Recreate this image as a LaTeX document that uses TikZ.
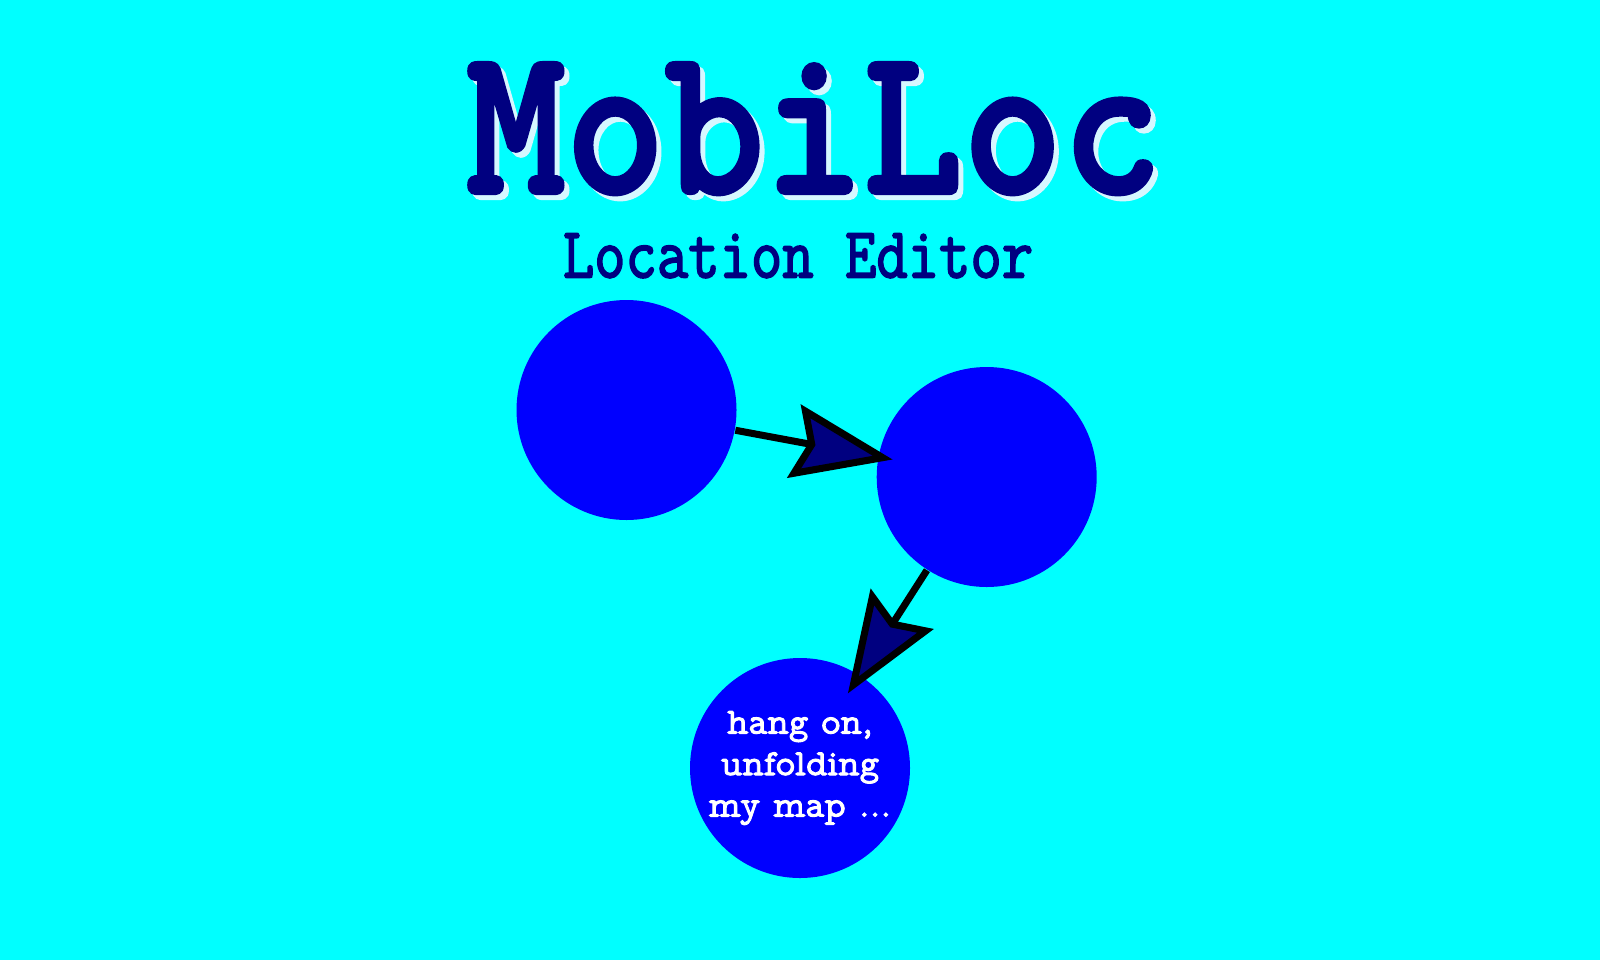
\documentclass[tikz,border=0pt]{standalone}
\usepackage{fontspec}
\usepackage{graphicx}
\newfontfamily\titlefont{Latin Modern Mono Light}[FakeBold=2]
\newfontfamily\typefont{Latin Modern Mono}[FakeBold=2.5]
\newfontfamily\notefont{Latin Modern Mono Prop}[FakeBold=2.5]
\usetikzlibrary{arrows.meta,positioning}
\definecolor{skycyan}{HTML}{00FFFF}
\definecolor{spotblue}{HTML}{0000FF}
\definecolor{inknavy}{HTML}{000080}
\definecolor{paleshade}{HTML}{D6F7FF}

\begin{document}
\begin{tikzpicture}[
    spot/.style={circle,fill=spotblue,minimum size=2.2cm,inner sep=0pt,
      text=white,align=center,font=\notefont\fontsize{10.5}{11.8}\selectfont},
    hop/.style={draw=black,line width=2pt,line join=round,
      -{Stealth[length=1.0cm,width=0.74cm,inset=0.14cm,fill=inknavy]}},
    headline/.style={anchor=base,inner sep=0pt}
]
\fill[skycyan] (0,0) rectangle (16,9.6);
\useasboundingbox (0,0) rectangle (16,9.6);

% title with its pale shadow
\begin{scope}
\clip (0,0) rectangle (16,9.04);
\node[headline,text=paleshade] (titleshade) at (8.19,7.62)
  {\scalebox{0.89}[1]{\titlefont\bfseries\fontsize{60.5}{60.5}\selectfont MobiLoc}};
\node[headline,text=inknavy] (title) at (8.14,7.67)
  {\scalebox{0.89}[1]{\titlefont\bfseries\fontsize{60.5}{60.5}\selectfont MobiLoc}};
\end{scope}
\node[headline,text=inknavy] (subtitle) at (7.98,6.825)
  {\scalebox{0.845}[1]{\typefont\fontsize{20.5}{20.5}\selectfont Location Editor}};

\node[spot] (first) at (6.265,5.50) {};
\node[spot] (second) at (9.867,4.83) {};
\node[spot] (third) at (8.00,1.92) {hang on,\\unfolding\\my map ...};

\draw[hop,shorten >=-0.15cm] (first) -- (second);
\draw[hop,shorten >=-0.22cm] (second) -- (third);
\end{tikzpicture}
\end{document}
